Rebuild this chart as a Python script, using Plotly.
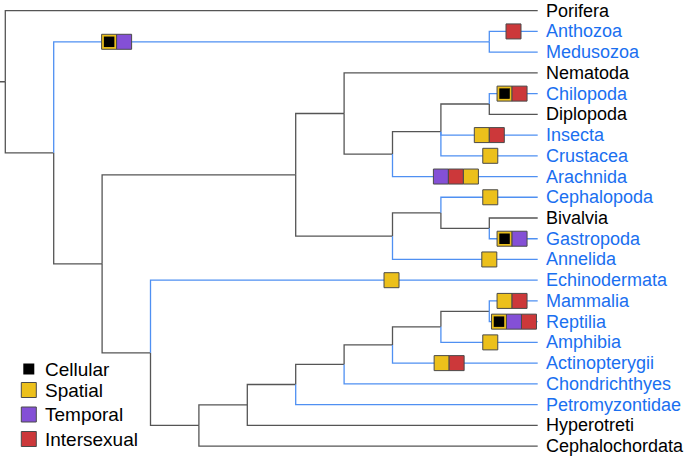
import plotly.graph_objects as go

# ---------------- data ----------------
tips = ["Porifera", "Anthozoa", "Medusozoa", "Nematoda", "Chilopoda", "Diplopoda",
        "Insecta", "Crustacea", "Arachnida", "Cephalopoda", "Bivalvia", "Gastropoda",
        "Annelida", "Echinodermata", "Mammalia", "Reptilia", "Amphibia",
        "Actinopterygii", "Chondrichthyes", "Petromyzontidae", "Hyperotreti",
        "Cephalochordata"]

# internal clades: name, depth level, children
clade_names = ["Root", "Eumetazoa", "Cnidaria", "Bilateria", "Protostomia", "Ecdysozoa",
               "Arthropoda", "Mandibulata", "Myriapoda", "Lophotrochozoa", "Mollusca",
               "BivGast", "Deuterostomia", "Chordata", "Craniata", "Vertebrata",
               "Gnathostomata", "Osteichthyes", "Tetrapoda", "Amniota"]
clade_levels = [0, 1, 10, 2, 6, 7, 8, 9, 10, 8, 9, 10, 3, 4, 5, 6, 7, 8, 9, 10]
clade_children = [
    ["Porifera", "Eumetazoa"],
    ["Cnidaria", "Bilateria"],
    ["Anthozoa", "Medusozoa"],
    ["Protostomia", "Deuterostomia"],
    ["Ecdysozoa", "Lophotrochozoa"],
    ["Nematoda", "Arthropoda"],
    ["Mandibulata", "Arachnida"],
    ["Myriapoda", "Insecta", "Crustacea"],
    ["Chilopoda", "Diplopoda"],
    ["Mollusca", "Annelida"],
    ["Cephalopoda", "BivGast"],
    ["Bivalvia", "Gastropoda"],
    ["Echinodermata", "Chordata"],
    ["Craniata", "Cephalochordata"],
    ["Vertebrata", "Hyperotreti"],
    ["Gnathostomata", "Petromyzontidae"],
    ["Osteichthyes", "Chondrichthyes"],
    ["Tetrapoda", "Actinopterygii"],
    ["Amniota", "Amphibia"],
    ["Mammalia", "Reptilia"],
]
tip_level = 11

highlighted = ["Cnidaria", "Anthozoa", "Medusozoa", "Chilopoda", "Insecta", "Crustacea",
               "Arachnida", "Cephalopoda", "Gastropoda", "Annelida", "Echinodermata",
               "Mammalia", "Reptilia", "Amphibia", "Actinopterygii", "Chondrichthyes",
               "Petromyzontidae"]

# traits on branches: branch (child clade), position (depth level), traits in order
trait_branches = ["Cnidaria", "Anthozoa", "Chilopoda", "Insecta", "Crustacea", "Arachnida",
                  "Cephalopoda", "Gastropoda", "Annelida", "Echinodermata", "Mammalia",
                  "Reptilia", "Amphibia", "Actinopterygii"]
trait_positions = [2.30, 10.50, 10.47, 10.00, 10.02, 9.31, 10.02, 10.47, 10.00, 7.98,
                   10.47, 10.51, 10.02, 9.17]
trait_sets = [["CS", "T"], ["I"], ["CS", "I"], ["S", "I"], ["S"], ["T", "I", "S"], ["S"],
              ["CS", "T"], ["S"], ["S"], ["S", "I"], ["CS", "T", "I"], ["S"], ["S", "I"]]

legend_labels = ["Cellular", "Spatial", "Temporal", "Intersexual"]

# ---------------- styles ----------------
GREY = "#555555"
BLUE_LINE = "#4f90f2"
BLUE_TEXT = "#1a6ff0"
YELLOW = "#ecc01b"
PURPLE = "#8450d6"
RED = "#cc383a"
BORDER = "#4a4a4a"
FONT = "Liberation Sans, Arial, sans-serif"

PX_X0, PX_DX = 5.3, 48.4
PX_Y0, PX_DY = 10.7, 20.73
W, H = 685, 458
BOX = 15
BOXW = BOX / PX_DX

# ---------------- layout of tree ----------------
ypos = {t: i for i, t in enumerate(tips)}
xpos = {t: tip_level for t in tips}
info = dict(zip(clade_names, zip(clade_levels, clade_children)))


def place(n):
    if n in ypos:
        return ypos[n]
    lvl, ch = info[n]
    ys = [place(c) for c in ch]
    ypos[n] = sum(ys) / len(ys)
    xpos[n] = lvl
    return ypos[n]


place("Root")

seg = {"g": ([], []), "b": ([], [])}
for n in clade_names:
    for c in info[n][1]:
        k = "b" if c in highlighted else "g"
        xs, ys = seg[k]
        xs += [xpos[n], xpos[n], xpos[c], None]
        ys += [ypos[n], ypos[c], ypos[c], None]
# root stub
seg["g"][0].extend([-1, xpos["Root"], None])
seg["g"][1].extend([ypos["Root"], ypos["Root"], None])

fig = go.Figure()
fig.add_trace(go.Scatter(x=seg["g"][0], y=seg["g"][1], mode="lines",
                         line=dict(color=GREY, width=1.3), hoverinfo="skip"))
fig.add_trace(go.Scatter(x=seg["b"][0], y=seg["b"][1], mode="lines",
                         line=dict(color=BLUE_LINE, width=1.3), hoverinfo="skip"))

# trait boxes
fill = {"CS": YELLOW, "S": YELLOW, "T": PURPLE, "I": RED}
bx, by, bc, cx, cy = [], [], [], [], []
for br, pos, ts in zip(trait_branches, trait_positions, trait_sets):
    n = len(ts)
    for k, t in enumerate(ts):
        x = pos + (k - (n - 1) / 2) * BOXW
        bx.append(x)
        by.append(ypos[br])
        bc.append(fill[t])
        if t == "CS":
            cx.append(x)
            cy.append(ypos[br])
fig.add_trace(go.Scatter(x=bx, y=by, mode="markers", hoverinfo="skip",
                         marker=dict(symbol="square", size=BOX, color=bc,
                                     line=dict(color=BORDER, width=1))))
fig.add_trace(go.Scatter(x=cx, y=cy, mode="markers", hoverinfo="skip",
                         marker=dict(symbol="square", size=10.5, color="black",
                                     line=dict(width=0))))

# tip labels
for t in tips:
    fig.add_annotation(x=tip_level, y=ypos[t], text=t, showarrow=False,
                       xanchor="left", yanchor="middle", xshift=6,
                       font=dict(family=FONT, size=18,
                                 color=BLUE_TEXT if t in highlighted else "black"))

# legend (drawn manually)
def px_to_x(p):
    return (p - PX_X0) / PX_DX


def py_to_y(p):
    return (p - PX_Y0) / PX_DY


leg_y_px = [369, 390, 414.5, 439]
leg_colors = ["black", YELLOW, PURPLE, RED]
leg_sizes = [11, BOX, BOX, BOX]
leg_lines = [0, 1, 1, 1]
for lab, yp, col, sz, lw in zip(legend_labels, leg_y_px, leg_colors, leg_sizes, leg_lines):
    fig.add_trace(go.Scatter(x=[px_to_x(28.8)], y=[py_to_y(yp)], mode="markers",
                             hoverinfo="skip",
                             marker=dict(symbol="square", size=sz, color=col,
                                         line=dict(color=BORDER, width=lw))))
    fig.add_annotation(x=px_to_x(43), y=py_to_y(yp), text=lab, showarrow=False,
                       xanchor="left", yanchor="middle",
                       font=dict(family=FONT, size=19, color="black"))

fig.update_layout(
    width=W, height=H, margin=dict(l=0, r=0, t=0, b=0),
    paper_bgcolor="white", plot_bgcolor="white", showlegend=False,
    xaxis=dict(range=[px_to_x(0), px_to_x(W)], visible=False, fixedrange=True),
    yaxis=dict(range=[py_to_y(H), py_to_y(0)], visible=False, fixedrange=True),
)
fig.write_html("out.html", config={"displayModeBar": False},
               post_script="document.body.style.margin='0';"
                           "document.body.style.overflow='hidden';")
